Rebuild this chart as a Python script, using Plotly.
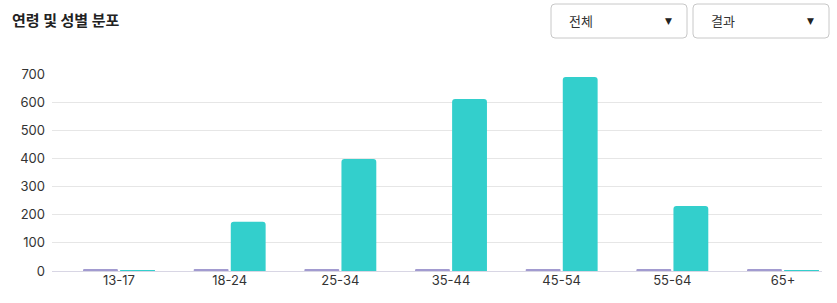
import plotly.graph_objects as go

categories = ["13-17", "18-24", "25-34", "35-44", "45-54", "55-64", "65+"]
series_a = [4, 4, 4, 4, 4, 4, 4]          # purple (near zero)
series_b = [3, 175, 398, 611, 689, 231, 3]  # teal
y_ticks = [0, 100, 200, 300, 400, 500, 600, 700]
title_text = "연령 및 성별 분포"
dropdown_labels = ["전체", "결과"]

FONT = "Inter, 'Noto Sans CJK KR', sans-serif"

fig = go.Figure()
fig.add_trace(go.Bar(x=categories, y=series_a, marker_color="#a29bd0", marker_line_width=0, name="A"))
fig.add_trace(go.Bar(x=categories, y=series_b, marker_color="#33cfcc", marker_line_width=0, name="B"))

# dropdown boxes
shapes = []
annotations = [dict(text=f"<b>{title_text}</b>", x=10, y=20, xref="paper", yref="paper",
                    showarrow=False)]
boxes = [(551, 687), (693, 829)]
W, H = 837, 303
L, R, T, B = 52, 15, 74, 32
pw, ph = W - L - R, H - T - B

def px_x(x):
    return (x - L) / pw

def px_y(y):
    return (H - B - y) / ph

annotations = [dict(text=f"<b>{title_text}</b>", x=px_x(10), y=px_y(21), xref="paper", yref="paper",
                    xanchor="left", yanchor="middle", showarrow=False,
                    font=dict(size=15, color="#222", family=FONT))]
for (x0, x1), lab in zip(boxes, dropdown_labels):
    shapes.append(dict(type="path",
                       path=(f"M {px_x(x0+4)} {px_y(4)} L {px_x(x1-4)} {px_y(4)} "
                             f"Q {px_x(x1)} {px_y(4)} {px_x(x1)} {px_y(8)} "
                             f"L {px_x(x1)} {px_y(34)} Q {px_x(x1)} {px_y(38)} {px_x(x1-4)} {px_y(38)} "
                             f"L {px_x(x0+4)} {px_y(38)} Q {px_x(x0)} {px_y(38)} {px_x(x0)} {px_y(34)} "
                             f"L {px_x(x0)} {px_y(8)} Q {px_x(x0)} {px_y(4)} {px_x(x0+4)} {px_y(4)} Z"),
                       xref="paper", yref="paper", line=dict(color="#c8c8c8", width=1),
                       fillcolor="white", layer="above"))
    annotations.append(dict(text=lab, x=px_x(x0 + 16), y=px_y(21), xref="paper", yref="paper",
                            xanchor="left", yanchor="middle", showarrow=False,
                            font=dict(size=13, color="#333", family=FONT)))
    annotations.append(dict(text="▼", x=px_x(x1 - 19), y=px_y(21), xref="paper", yref="paper",
                            xanchor="center", yanchor="middle", showarrow=False,
                            font=dict(size=9, color="#222", family="DejaVu Sans")))

# x range so category centers land at ~119 and ~783 px
unit = (783 - 119) / 6
x0r = -(119 - L) / unit
x1r = x0r + pw / unit

fig.update_layout(
    width=W, height=H,
    margin=dict(l=L, r=R, t=T, b=B, pad=0),
    paper_bgcolor="white", plot_bgcolor="white",
    showlegend=False,
    barmode="group", bargap=0.33, bargroupgap=0.06,
    barcornerradius=3,
    font=dict(family=FONT, size=13, color="#333"),
    shapes=shapes, annotations=annotations,
    xaxis=dict(range=[x0r, x1r], showgrid=False, showline=False, zeroline=False,
               ticks="", tickfont=dict(size=13, color="#333"), fixedrange=True),
    yaxis=dict(range=[0, 700], tickvals=y_ticks, showgrid=True, gridcolor="#e6e6e6",
               gridwidth=1, zeroline=True, zerolinecolor="#d8d6e4", zerolinewidth=1,
               showline=False, ticks="", ticklabelstandoff=6,
               tickfont=dict(size=13, color="#333")),
)

fig.write_html("out.html")
